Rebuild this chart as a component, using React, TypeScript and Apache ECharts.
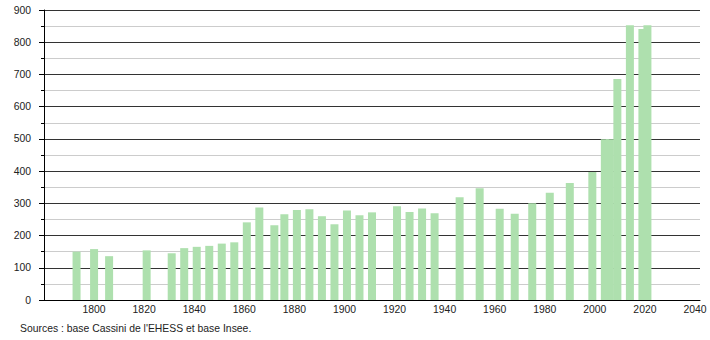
import React, { useEffect, useRef } from "react";
import * as echarts from "echarts";

const years = [1793, 1800, 1806, 1821, 1831, 1836, 1841, 1846, 1851, 1856, 1861, 1866, 1872, 1876, 1881, 1886, 1891, 1896, 1901, 1906, 1911, 1921, 1926, 1931, 1936, 1946, 1954, 1962, 1968, 1975, 1982, 1990, 1999, 2004, 2006, 2009, 2014, 2019, 2021];
const population = [150, 158, 136, 154, 145, 161, 165, 168, 175, 179, 241, 287, 232, 266, 279, 282, 260, 235, 278, 263, 272, 291, 273, 284, 269, 319, 347, 283, 268, 300, 333, 363, 397, 499, 499, 686, 853, 841, 853];
const yTicks = [0, 100, 200, 300, 400, 500, 600, 700, 800, 900];
const sourceText = "Sources : base Cassini de l'EHESS et base Insee.";

export default function App() {
  const ref = useRef<HTMLDivElement>(null);
  useEffect(() => {
    if (!ref.current) return;
    const chart = echarts.init(ref.current, null, { renderer: "svg" });
    const font = "'Liberation Sans', Arial, sans-serif";
    chart.setOption({
      animation: false,
      grid: { left: 44, right: 10, top: 10, bottom: 40, containLabel: false },
      xAxis: {
        type: "value",
        min: 1780,
        max: 2042,
        interval: 20,
        axisLine: { show: true, lineStyle: { color: "#000", width: 1 } },
        axisTick: { show: false },
        splitLine: { show: false },
        axisLabel: {
          color: "#222",
          fontFamily: font,
          fontSize: 10.4,
          margin: 4,
          formatter: (v: number) => (v % 20 === 0 && v > 1780 ? String(v) : ""),
        },
      },
      yAxis: {
        type: "value",
        min: yTicks[0],
        max: yTicks[yTicks.length - 1],
        interval: 100,
        axisLine: { show: true, lineStyle: { color: "#000", width: 1 } },
        axisTick: { show: true, length: 5, lineStyle: { color: "#000" } },
        minorTick: { show: true, splitNumber: 2, length: 3, lineStyle: { color: "#000" } },
        splitLine: { show: true, lineStyle: { color: "#333", width: 1 } },
        minorSplitLine: { show: true, lineStyle: { color: "#ccc", width: 1 } },
        axisLabel: { color: "#222", fontFamily: font, fontSize: 10.4, margin: 13 },
      },
      series: [
        {
          type: "bar",
          barWidth: 8,
          data: years.map((y, i) => [y, population[i]]),
          itemStyle: { color: "#aee0ae" },
          z: 3,
        },
      ],
      graphic: [
        {
          type: "text",
          left: 20,
          top: 323,
          style: { text: sourceText, fill: "#222", font: `10.4px ${font}` },
        },
      ],
    });
    return () => chart.dispose();
  }, []);
  return <div ref={ref} style={{ width: 710, height: 340, position: "absolute", left: 0, top: 0 }} />;
}
